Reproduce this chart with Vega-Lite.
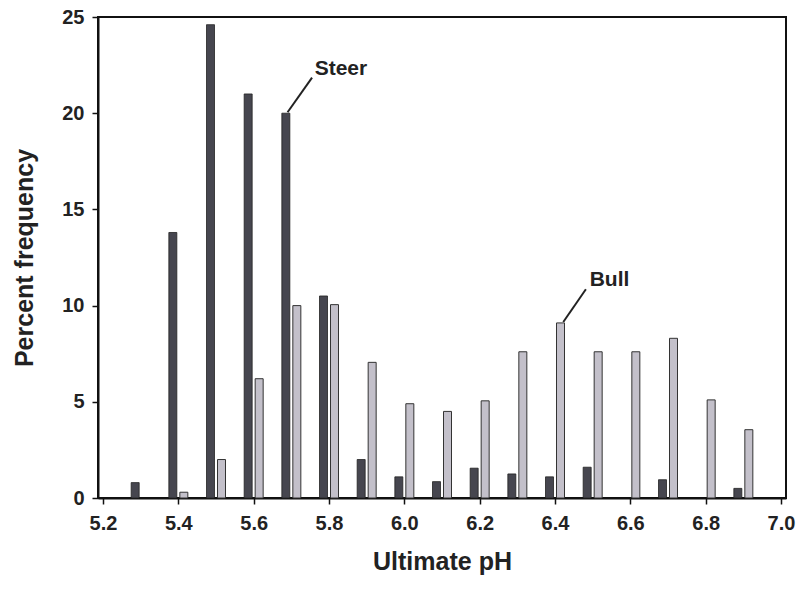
{
  "$schema": "https://vega.github.io/schema/vega-lite/v6.json",
  "width": 688,
  "height": 481,
  "autosize": {"type": "none"},
  "padding": {"left": 98, "top": 17, "right": 18, "bottom": 92},
  "background": "white",
  "config": {
    "font": "Liberation Sans",
    "view": {"stroke": "#111", "strokeWidth": 2},
    "axis": {
      "grid": false,
      "domainColor": "#111",
      "domainWidth": 2,
      "tickColor": "#111",
      "tickWidth": 1.5,
      "tickSize": 6,
      "labelFont": "Liberation Sans",
      "labelFontWeight": "bold",
      "labelFontSize": 20,
      "labelColor": "#222",
      "titleFont": "Liberation Sans",
      "titleFontWeight": "bold",
      "titleFontSize": 25,
      "titleColor": "#222"
    }
  },
  "datasets": {
    "freq": [
      {"pH": 5.3, "group": "Steer", "pct": 0.8},
      {"pH": 5.4, "group": "Steer", "pct": 13.8},
      {"pH": 5.5, "group": "Steer", "pct": 24.6},
      {"pH": 5.6, "group": "Steer", "pct": 21.0},
      {"pH": 5.7, "group": "Steer", "pct": 20.0},
      {"pH": 5.8, "group": "Steer", "pct": 10.5},
      {"pH": 5.9, "group": "Steer", "pct": 2.0},
      {"pH": 6.0, "group": "Steer", "pct": 1.1},
      {"pH": 6.1, "group": "Steer", "pct": 0.85},
      {"pH": 6.2, "group": "Steer", "pct": 1.55},
      {"pH": 6.3, "group": "Steer", "pct": 1.25},
      {"pH": 6.4, "group": "Steer", "pct": 1.1},
      {"pH": 6.5, "group": "Steer", "pct": 1.6},
      {"pH": 6.7, "group": "Steer", "pct": 0.95},
      {"pH": 6.9, "group": "Steer", "pct": 0.5},
      {"pH": 5.4, "group": "Bull", "pct": 0.3},
      {"pH": 5.5, "group": "Bull", "pct": 2.0},
      {"pH": 5.6, "group": "Bull", "pct": 6.2},
      {"pH": 5.7, "group": "Bull", "pct": 10.0},
      {"pH": 5.8, "group": "Bull", "pct": 10.05},
      {"pH": 5.9, "group": "Bull", "pct": 7.05},
      {"pH": 6.0, "group": "Bull", "pct": 4.9},
      {"pH": 6.1, "group": "Bull", "pct": 4.5},
      {"pH": 6.2, "group": "Bull", "pct": 5.05},
      {"pH": 6.3, "group": "Bull", "pct": 7.6},
      {"pH": 6.4, "group": "Bull", "pct": 9.1},
      {"pH": 6.5, "group": "Bull", "pct": 7.6},
      {"pH": 6.6, "group": "Bull", "pct": 7.6},
      {"pH": 6.7, "group": "Bull", "pct": 8.3},
      {"pH": 6.8, "group": "Bull", "pct": 5.1},
      {"pH": 6.9, "group": "Bull", "pct": 3.55}
    ],
    "labels": [
      {"pH": 5.762, "pct": 22.0, "text": "Steer"},
      {"pH": 6.492, "pct": 11.0, "text": "Bull"}
    ],
    "leaders": [
      {"pH": 5.755, "pct": 21.85, "pH2": 5.69, "pct2": 20.05},
      {"pH": 6.482, "pct": 10.85, "pH2": 6.422, "pct2": 9.15}
    ]
  },
  "encoding": {
    "x": {
      "field": "pH",
      "type": "quantitative",
      "scale": {"domain": [5.2, 7.0], "nice": false, "zero": false},
      "axis": {
        "title": "Ultimate pH",
        "values": [5.2, 5.4, 5.6, 5.8, 6.0, 6.2, 6.4, 6.6, 6.8, 7.0],
        "format": ".1f",
        "labelPadding": 9,
        "titlePadding": 16
      }
    },
    "y": {
      "field": "pct",
      "type": "quantitative",
      "scale": {"domain": [0, 25], "nice": false},
      "axis": {
        "title": "Percent frequency",
        "values": [0, 5, 10, 15, 20, 25],
        "labelPadding": 8,
        "titlePadding": 24
      }
    }
  },
  "layer": [
    {
      "data": {"name": "freq"},
      "transform": [{"filter": "datum.group === 'Steer'"}],
      "mark": {"type": "bar", "size": 8, "xOffset": -5.5, "color": "#46464f", "stroke": "#222", "strokeWidth": 0.8}
    },
    {
      "data": {"name": "freq"},
      "transform": [{"filter": "datum.group === 'Bull'"}],
      "mark": {"type": "bar", "size": 8, "xOffset": 5.5, "color": "#c3c0ca", "stroke": "#333", "strokeWidth": 1}
    },
    {
      "data": {"name": "leaders"},
      "mark": {"type": "rule", "color": "#222", "strokeWidth": 2},
      "encoding": {
        "x2": {"field": "pH2"},
        "y2": {"field": "pct2"}
      }
    },
    {
      "data": {"name": "labels"},
      "mark": {"type": "text", "align": "left", "baseline": "alphabetic", "font": "Liberation Sans", "fontWeight": "bold", "fontSize": 21, "color": "#222"},
      "encoding": {
        "text": {"field": "text"}
      }
    }
  ]
}
